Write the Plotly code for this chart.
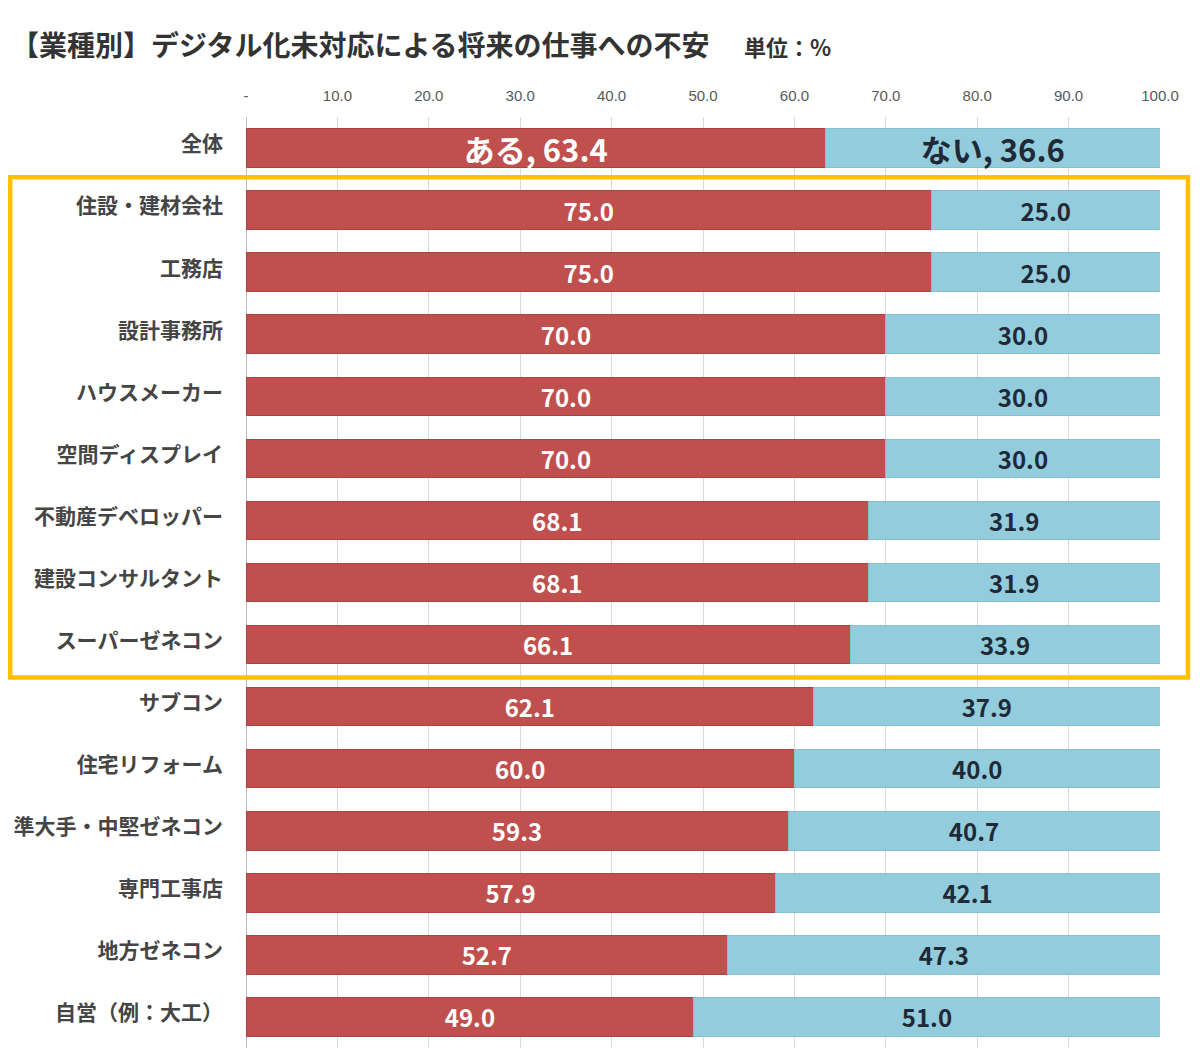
import plotly.graph_objects as go

categories = ["全体", "住設・建材会社", "工務店", "設計事務所", "ハウスメーカー", "空間ディスプレイ",
              "不動産デベロッパー", "建設コンサルタント", "スーパーゼネコン", "サブコン", "住宅リフォーム",
              "準大手・中堅ゼネコン", "専門工事店", "地方ゼネコン", "自営（例：大工）"]
aru = [63.4, 75.0, 75.0, 70.0, 70.0, 70.0, 68.1, 68.1, 66.1, 62.1, 60.0, 59.3, 57.9, 52.7, 49.0]
nai = [36.6, 25.0, 25.0, 30.0, 30.0, 30.0, 31.9, 31.9, 33.9, 37.9, 40.0, 40.7, 42.1, 47.3, 51.0]
series_names = ["ある", "ない"]
tick_vals = [0, 10, 20, 30, 40, 50, 60, 70, 80, 90, 100]
tick_text = ["-", "10.0", "20.0", "30.0", "40.0", "50.0", "60.0", "70.0", "80.0", "90.0", "100.0"]
highlight_first = "住設・建材会社"
highlight_last = "スーパーゼネコン"

title_text = "【業種別】デジタル化未対応による将来の仕事への不安"
unit_text = "単位：%"

RED = "#C0504D"
BLUE = "#93CDDD"
FONT = "Noto Sans CJK JP"

def make_text(name, vals):
    out = []
    for i, v in enumerate(vals):
        if i == 0:
            out.append(f"{name}, {v:.1f}")
        else:
            out.append(f"{v:.1f}")
    return out

sizes = [31] + [24] * (len(categories) - 1)

fig = go.Figure()
fig.add_trace(go.Bar(
    y=categories, x=aru, orientation="h", name=series_names[0],
    marker=dict(color=RED, line=dict(color="#A94441", width=1)),
    text=make_text(series_names[0], aru), textposition="inside", insidetextanchor="middle",
    constraintext="none",
    textfont=dict(color="white", size=sizes, family=FONT, weight="bold"),
    textangle=0, cliponaxis=False,
))
fig.add_trace(go.Bar(
    y=categories, x=nai, orientation="h", name=series_names[1],
    marker=dict(color=BLUE, line=dict(color="#86BFD0", width=1)),
    text=make_text(series_names[1], nai), textposition="inside", insidetextanchor="middle",
    constraintext="none",
    textfont=dict(color="#1F2A36", size=sizes, family=FONT, weight="bold"),
    textangle=0, cliponaxis=False,
))

i0 = categories.index(highlight_first)
i1 = categories.index(highlight_last)
fig.add_shape(type="rect", xref="paper", yref="y",
              x0=-0.258, x1=1.0306, y0=i0 - 0.53, y1=i1 + 0.53,
              line=dict(color="#FFC000", width=4.5), fillcolor="rgba(0,0,0,0)", layer="above")

fig.add_annotation(text=title_text, xref="paper", yref="paper", x=-0.2593, y=1.078,
                   xanchor="left", yanchor="middle", showarrow=False,
                   font=dict(size=28, family=FONT, color="#333333", weight="bold"))
fig.add_annotation(text=unit_text, xref="paper", yref="paper", x=0.543, y=1.076,
                   xanchor="left", yanchor="middle", showarrow=False,
                   font=dict(size=22, family=FONT, color="#333333", weight="bold"))

fig.update_layout(
    width=1200, height=1055,
    barmode="stack", bargap=0.38,
    showlegend=False,
    plot_bgcolor="white", paper_bgcolor="white",
    margin=dict(l=238, r=48, t=109, b=15),
)
fig.update_xaxes(range=[0, 100], side="top", tickvals=tick_vals, ticktext=tick_text,
                 showgrid=True, gridcolor="#D9D9D9", gridwidth=1,
                 zeroline=True, zerolinecolor="#BFBFBF", zerolinewidth=1,
                 tickfont=dict(size=15, color="#595959", family="Liberation Sans"),
                 ticks="", ticklabelstandoff=12, fixedrange=True, automargin=False)
fig.update_yaxes(autorange="reversed", type="category",
                 tickfont=dict(size=21, color="#454545", family=FONT, weight="bold"),
                 ticks="", ticklabelstandoff=22, ticklabelshift=4, showgrid=False,
                 automargin=False)

fig.write_html("out.html")
